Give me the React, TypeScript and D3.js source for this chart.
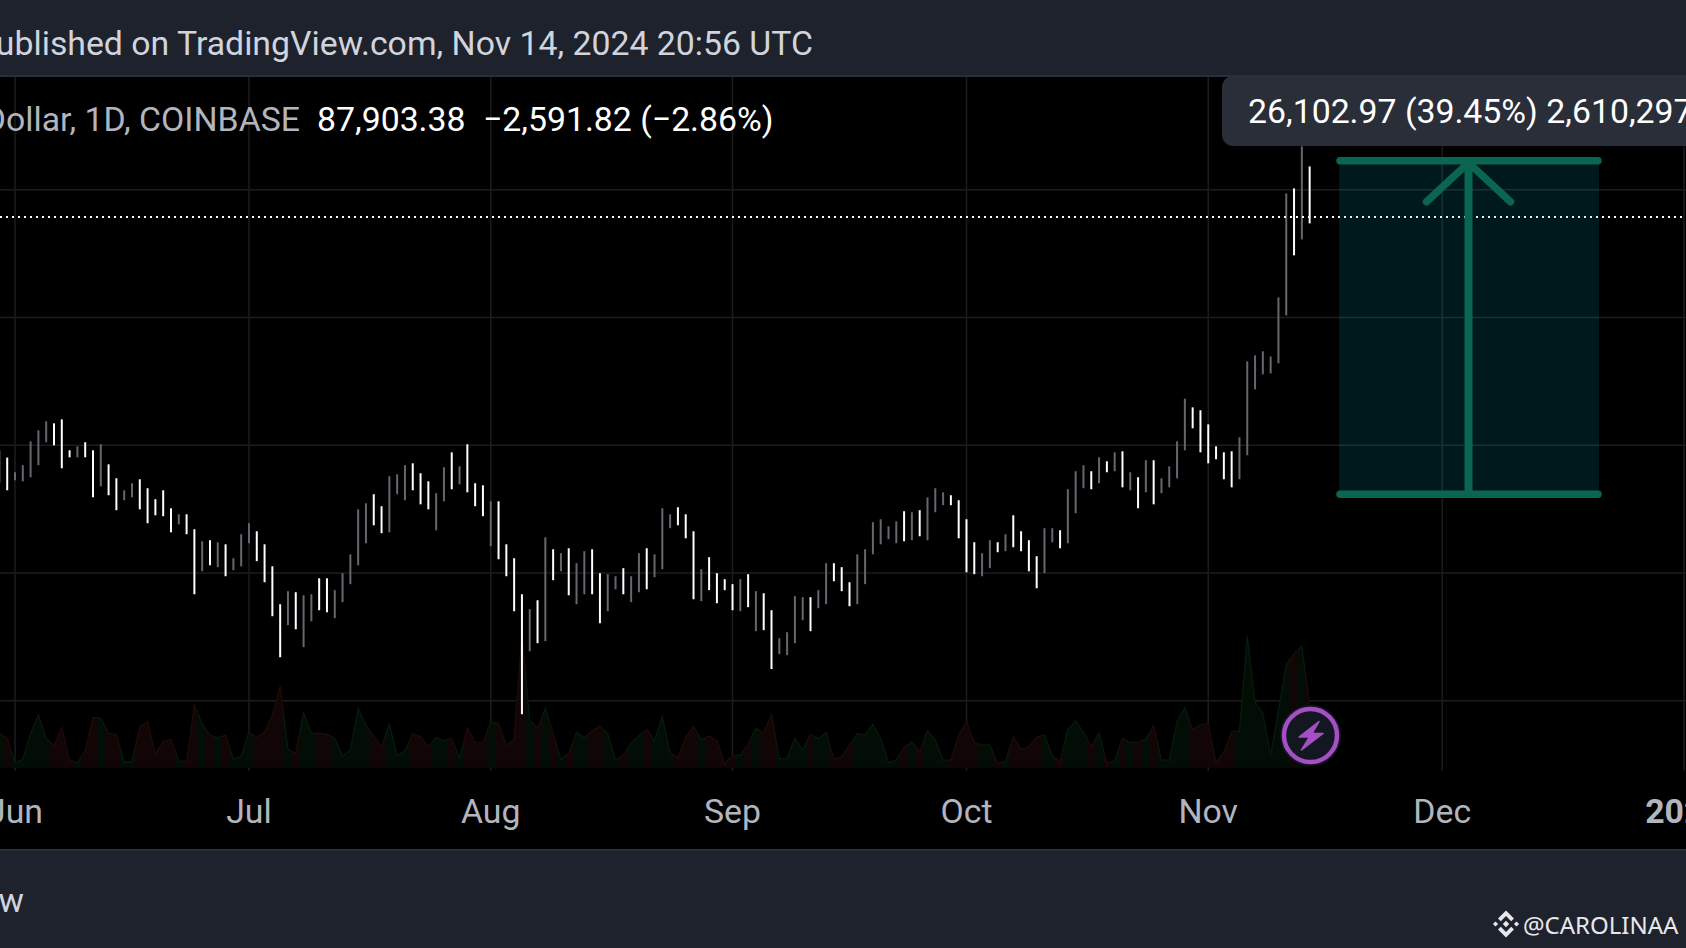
import React from "react";
import * as d3 from "d3";

const W = 1686, H = 948;
const FIRST_DAY = Date.UTC(2024, 4, 30);
const DAY = 86400000;

// Daily highs (USD), May 30 → Nov 14 2024
const highs = [69610,69040,67890,68440,70310,71170,71880,71720,72030,69610,69920,70240,69610,70080,68510,67420,66480,67030,67340,66640,65780,66480,65070,64600,64600,63430,62490,62570,62410,62250,61160,63040,
63900,63270,62250,60530,57560,58580,58500,58260,58340,59590,59590,58660,59990,61470,64990,65460,66170,65230,67580,67730,68440,68590,67810,67180,66250,68280,69450,68360,70080,67030,66870,
65620,65620,62250,61160,58340,57170,57870,62800,61860,61550,61940,60770,61710,61860,59990,59910,59750,60380,59750,61550,61940,61470,65070,64600,65150,64600,63270,60300,61240,59990,59520,
59130,59520,59910,58580,58420,57090,54900,55370,58190,58110,58110,58660,60770,60770,60460,59280,61470,61860,63980,64210,63660,64050,64840,64760,64920,65930,66640,66320,66090,65700,
64210,62410,61550,62570,62410,63040,64520,63270,62570,61320,63510,63510,63350,66560,67970,68440,67970,69060,68750,69450,69530,67890,67500,68830,68830,67420,68360,70310,73650,72970,72740,
71640,69920,69450,69530,70630,76570,77040,77360,76960,81580,89720,90110,93400,91830];

// Daily lows (USD)
const lows = [67050,66480,67260,67180,67500,68440,70240,70000,68200,69060,69060,69060,65930,66790,66090,64920,65700,65930,64990,63900,64520,64450,63190,63820,63040,58340,60140,60610,60460,59750,60220,60530,
62330,60930,59280,56620,53410,55920,55600,54200,56230,57090,56930,56470,57720,59130,60610,62330,63740,63120,63190,66170,65700,66480,65380,64990,63350,65620,66560,66950,66320,65230,64450,
62100,61080,59750,57010,48950,53880,54510,54670,59440,60140,58260,57560,58340,58340,56070,57010,58730,58340,57720,58500,58730,59670,60300,63510,63740,62720,57950,57800,58660,57640,58660,
57090,57010,57330,55450,55530,52480,53650,53570,54510,56310,55450,57250,57560,59360,58580,57400,57560,59130,61470,62250,62650,62330,62490,62570,62880,62570,64760,65310,65310,62720,
60060,59910,59750,60380,61630,61710,62020,61710,60140,58810,59990,62410,61940,62330,64680,66640,66560,67030,67890,67970,66710,66480,65070,66320,65380,66250,66710,67420,69610,71330,69450,
68590,68910,67340,66710,67340,69220,74380,75560,75630,76420,80170,84870,86120,87370];

// 1 = close below open (drawn white), 0 = close above open (drawn grey)
const down = [0,1,0,0,0,0,0,1,1,1,0,1,1,0,1,1,0,0,1,1,1,1,1,0,1,1,0,1,0,1,0,0,
0,1,1,1,1,0,1,0,0,1,1,0,0,0,0,0,1,1,0,0,0,1,1,1,0,0,1,0,1,1,1,
0,1,1,1,1,0,1,0,1,0,1,0,0,1,1,0,0,1,0,0,1,0,0,0,1,1,1,0,1,1,1,
1,0,1,0,1,1,0,0,0,0,1,0,0,1,1,1,0,0,0,0,0,0,1,0,1,0,0,0,1,1,
1,1,0,0,1,0,1,1,1,1,0,0,1,0,0,0,1,0,1,0,1,0,1,0,1,0,0,0,0,1,1,
1,1,1,1,0,0,0,0,0,0,0,1,0,1];

// Volume, relative units
const volumes = [103,88,15,25,103,158,88,65,121,23,13,53,151,148,103,99,17,18,123,138,41,79,85,20,18,188,131,98,90,98,25,35,
107,91,106,158,245,55,43,165,103,103,100,88,35,53,178,128,93,63,131,37,51,101,93,63,91,81,88,28,119,77,75,
136,133,68,85,403,143,118,178,103,25,43,106,91,110,126,101,23,37,73,95,115,81,153,43,31,91,123,83,95,81,11,
38,37,71,118,105,161,27,28,88,53,101,87,105,25,33,68,103,98,131,88,15,23,61,77,48,111,83,23,23,98,
138,75,68,68,13,18,93,55,63,91,98,35,18,115,141,106,65,103,13,21,88,75,77,85,127,23,23,138,180,115,128,
133,15,48,108,110,395,198,163,38,173,308,343,365,188];

const monthTicks = [
  { date: Date.UTC(2024, 5, 1), label: "Jun" },
  { date: Date.UTC(2024, 6, 1), label: "Jul" },
  { date: Date.UTC(2024, 7, 1), label: "Aug" },
  { date: Date.UTC(2024, 8, 1), label: "Sep" },
  { date: Date.UTC(2024, 9, 1), label: "Oct" },
  { date: Date.UTC(2024, 10, 1), label: "Nov" },
  { date: Date.UTC(2024, 11, 1), label: "Dec" },
  { date: Date.UTC(2025, 0, 1), label: "2025" },
];
const priceGrid = [50000, 60000, 70000, 80000, 90000];
const lastPrice = 87903.38;
const measureFrom = 66167;
const measureTo = 92269.97;

const x = d3.scaleUtc().domain([Date.UTC(2024, 5, 1), Date.UTC(2025, 0, 1)]).range([15, 1684]);
const y = d3.scaleLinear().domain([50000, 90000]).range([700.8, 189.8]);
const vy = d3.scaleLinear().domain([0, 400]).range([767.7, 634.4]);

const dayX = (i: number) => x(FIRST_DAY + i * DAY);
const FONT = "Roboto, sans-serif";
const GREEN = "#0a6650";
const TS = 33.8;

const areaGen = d3.area<number>().x((_, i) => dayX(i)).y0(vy(0)).y1((d) => vy(d));
const lineGen = d3.line<number>().x((_, i) => dayX(i)).y((d) => vy(d));

function stops(up: string, dn: string) {
  const res: React.ReactNode[] = [];
  const x0 = dayX(0), x1 = dayX(volumes.length - 1);
  down.forEach((d, i) => {
    const a = i === 0 ? 0 : (dayX(i) - 3.9 - x0) / (x1 - x0);
    const b = i === down.length - 1 ? 1 : (dayX(i) + 3.9 - x0) / (x1 - x0);
    const c = d ? dn : up;
    res.push(<stop key={i + "a"} offset={a} stopColor={c} />);
    res.push(<stop key={i + "b"} offset={b} stopColor={c} />);
  });
  return res;
}

export default function App() {
  const gx0 = dayX(0), gx1 = dayX(volumes.length - 1);
  const mx0 = 1339, mx1 = 1599;
  const mxMid = (mx0 + mx1) / 2 - 0.5;
  const yTop = y(measureTo), yBot = y(measureFrom);
  return (
    <svg width={W} height={H} viewBox={`0 0 ${W} ${H}`}
      style={{ position: "fixed", left: 0, top: 0, display: "block", fontFamily: FONT }}>
      <defs>
        <linearGradient id="volFill" gradientUnits="userSpaceOnUse" x1={gx0} x2={gx1} y1={0} y2={0}>
          {stops("#020e05", "#110605")}
        </linearGradient>
        <linearGradient id="volLine" gradientUnits="userSpaceOnUse" x1={gx0} x2={gx1} y1={0} y2={0}>
          {stops("#081a0c", "#1e0b09")}
        </linearGradient>
        <clipPath id="pane"><rect x={0} y={77} width={W} height={773} /></clipPath>
      </defs>

      <rect x={0} y={0} width={W} height={H} fill="#1e222d" />
      <rect x={0} y={76} width={W} height={774} fill="#000000" />
      <line x1={0} x2={W} y1={76} y2={76} stroke="#2a2e39" strokeWidth={2} />
      <line x1={0} x2={W} y1={850} y2={850} stroke="#2a2e39" strokeWidth={2} />

      <text x={813} y={55} textAnchor="end" fontSize={TS} fill="#d1d4dc">Published on TradingView.com, Nov 14, 2024 20:56 UTC</text>

      <g clipPath="url(#pane)">
        {priceGrid.map((p) => (
          <line key={p} x1={0} x2={W} y1={y(p)} y2={y(p)} stroke="#1c1c1c" strokeWidth={1.5} />
        ))}
        {monthTicks.map((t) => (
          <line key={t.label} x1={x(t.date)} x2={x(t.date)} y1={77} y2={771} stroke="#1c1c1c" strokeWidth={1.5} />
        ))}

        <path d={areaGen(volumes) ?? ""} fill="url(#volFill)" />
        <path d={lineGen(volumes) ?? ""} fill="none" stroke="url(#volLine)" strokeWidth={1.2} />

        {highs.map((h, i) => (
          <line key={i} x1={dayX(i)} x2={dayX(i)} y1={y(h)} y2={y(lows[i])}
            stroke={down[i] ? "#ffffff" : "#66666f"} strokeWidth={2} />
        ))}

        <line x1={0} x2={W} y1={y(lastPrice) + 0.3} y2={y(lastPrice) + 0.3} stroke="#ffffff" strokeWidth={2} strokeDasharray="2 4" />

        {/* Measured-move drawing */}
        <rect x={mx0} width={mx1 - mx0} y={yTop} height={yBot - yTop} fill="#02b4c8" fillOpacity={0.14} />
        <line x1={mx0 + 1} x2={mx1 - 1} y1={yTop} y2={yTop} stroke={GREEN} strokeWidth={7.5} strokeLinecap="round" />
        <line x1={mx0 + 1} x2={mx1 - 1} y1={yBot} y2={yBot} stroke={GREEN} strokeWidth={7.5} strokeLinecap="round" />
        <line x1={mxMid} x2={mxMid} y1={yTop} y2={yBot} stroke={GREEN} strokeWidth={8} />
        <path d={`M${mxMid - 42},${yTop + 41} L${mxMid},${yTop + 2} L${mxMid + 42},${yTop + 41}`} fill="none" stroke={GREEN} strokeWidth={7.5} strokeLinecap="round" />

        {/* Label */}
        <rect x={1222} y={76} width={520} height={70} rx={11} fill="#2a2e39" />
        <text x={1248} y={123} fontSize={TS} fill="#ffffff">26,102.97 (39.45%) 2,610,297</text>

        {/* Legend */}
        <text x={300} y={131} textAnchor="end" fontSize={TS} fill="#b2b5be">Bitcoin / U.S. Dollar, 1D, COINBASE</text>
        <text x={317} y={131} fontSize={TS} fill="#ffffff">87,903.38</text>
        <text x={483} y={131} fontSize={TS} fill="#ffffff">−2,591.82 (−2.86%)</text>

        {/* Flash badge */}
        <g transform={`translate(1310.5,735.5)`}>
          <circle r={30.5} fill="#131722" />
          <circle r={26.5} fill="#131722" stroke="#a64fc4" strokeWidth={4.5} />
          <path d="M8.5,-14 L-11.5,1.5 L-1,1.5 L-9,14.5 L12.5,-2 L1.5,-2 Z" fill="#a64fc4" stroke="#a64fc4" strokeWidth={1.5} strokeLinejoin="round" />
        </g>

        {monthTicks.map((t) => (
          <text key={t.label} x={x(t.date)} y={823} textAnchor="middle"
            fontSize={TS} fontWeight={t.label === "2025" ? 700 : 400} fill="#b2b5be">{t.label}</text>
        ))}
      </g>

      <text x={24} y={912} textAnchor="end" fontSize={TS} fill="#d1d4dc">View</text>

      {/* Watermark */}
      <g transform="translate(1506,924)" fill="#e8e8ec">
        <path d="M0,-13.5 L8,-5.5 L5.2,-2.7 L0,-8 L-5.2,-2.7 L-8,-5.5 Z" />
        <path d="M0,13.5 L8,5.5 L5.2,2.7 L0,8 L-5.2,2.7 L-8,5.5 Z" />
        <path d="M0,-3.2 L3.2,0 L0,3.2 L-3.2,0 Z" />
        <path d="M-10.5,-2.6 L-7.9,0 L-10.5,2.6 L-13.1,0 Z" />
        <path d="M10.5,-2.6 L13.1,0 L10.5,2.6 L7.9,0 Z" />
      </g>
      <text x={1523} y={934} fontSize={24} fontFamily="'Noto Sans', sans-serif" fill="#e8e8ec">@CAROLINAA</text>
    </svg>
  );
}
